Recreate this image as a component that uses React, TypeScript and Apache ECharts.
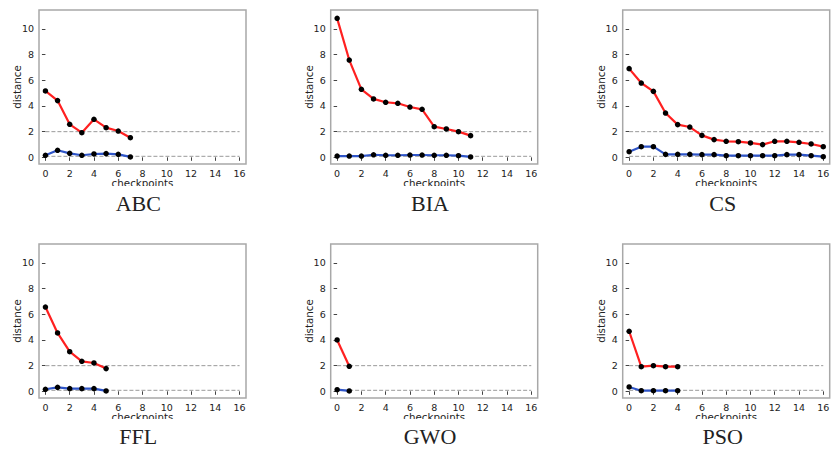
import React, { useEffect, useRef } from "react";
import * as echarts from "echarts";

// ---- data ----
const panelNames = ["ABC", "BIA", "CS", "FFL", "GWO", "PSO"];

const redABC = [5.17, 4.42, 2.57, 1.92, 2.96, 2.31, 2.05, 1.53];
const blueABC = [0.16, 0.55, 0.31, 0.16, 0.26, 0.29, 0.23, 0.03];

const redBIA = [10.83, 7.58, 5.3, 4.55, 4.29, 4.21, 3.92, 3.74, 2.39, 2.21, 2.0, 1.69];
const blueBIA = [0.1, 0.1, 0.1, 0.2, 0.16, 0.16, 0.18, 0.18, 0.16, 0.16, 0.13, 0.03];

const redCS = [6.91, 5.79, 5.14, 3.45, 2.55, 2.36, 1.71, 1.38, 1.25, 1.22, 1.12, 0.99, 1.25, 1.25, 1.17, 1.04, 0.83];
const blueCS = [0.44, 0.83, 0.83, 0.23, 0.23, 0.23, 0.21, 0.21, 0.13, 0.13, 0.13, 0.13, 0.13, 0.21, 0.21, 0.13, 0.05];

const redFFL = [6.57, 4.55, 3.09, 2.34, 2.21, 1.77];
const blueFFL = [0.16, 0.31, 0.21, 0.21, 0.21, 0.03];

const redGWO = [4.0, 1.95];
const blueGWO = [0.13, 0.03];

const redPSO = [4.68, 1.92, 2.0, 1.92, 1.92];
const bluePSO = [0.34, 0.05, 0.05, 0.05, 0.05];

const redSeries = [redABC, redBIA, redCS, redFFL, redGWO, redPSO];
const blueSeries = [blueABC, blueBIA, blueCS, blueFFL, blueGWO, bluePSO];

const thresholds = [2, 0.08];
const xTicks = [0, 2, 4, 6, 8, 10, 12, 14, 16];
const yTicks = [0, 2, 4, 6, 8, 10];

// ---- layout ----
const colLefts = [39, 330.7, 622.7];
const rowTops = [10, 244];
const plotW = 207;
const plotH = 154;
const captionX = [138.3, 430, 722.7];
const captionY = [203.3, 436.7];
const clipY = [186, 419];

export default function App() {
  const ref = useRef<HTMLDivElement>(null);

  useEffect(() => {
    if (!ref.current) return;
    const chart = echarts.init(ref.current, null, { renderer: "svg" });

    const grids: any[] = [];
    const xAxes: any[] = [];
    const yAxes: any[] = [];
    const series: any[] = [];
    const graphics: any[] = [];

    panelNames.forEach((name, i) => {
      const r = Math.floor(i / 3);
      const c = i % 3;
      grids.push({
        left: colLefts[c],
        top: rowTops[r],
        width: plotW,
        height: plotH,
        show: true,
        borderColor: "#a8a8a8",
        borderWidth: 1.5,
        backgroundColor: "#fff",
      });
      xAxes.push({
        type: "value",
        gridIndex: i,
        min: -0.53,
        max: 16.53,
        axisLine: { show: false },
        splitLine: { show: false },
        axisTick: {
          show: true,
          length: 3.5,
          customValues: xTicks,
          lineStyle: { color: "#444", width: 1 },
        },
        axisLabel: {
          customValues: xTicks,
          fontFamily: "DejaVu Sans",
          fontSize: 9.5,
          color: "#222",
          margin: 4,
        },
        name: "checkpoints",
        nameLocation: "middle",
        nameGap: 14,
        nameMoveOverlap: false,
        nameTextStyle: {
          fontFamily: "DejaVu Sans",
          fontSize: 10.3,
          color: "#222",
          verticalAlign: "top",
        },
      });
      yAxes.push({
        type: "value",
        gridIndex: i,
        min: -0.52,
        max: 11.48,
        axisLine: { show: false },
        splitLine: { show: false },
        axisTick: {
          show: true,
          length: 3.5,
          customValues: yTicks,
          lineStyle: { color: "#444", width: 1 },
        },
        axisLabel: {
          customValues: yTicks,
          fontFamily: "DejaVu Sans",
          fontSize: 9.5,
          color: "#222",
          margin: 5,
        },
        name: "distance",
        nameLocation: "middle",
        nameGap: 17,
        nameMoveOverlap: false,
        nameTextStyle: {
          fontFamily: "DejaVu Sans",
          fontSize: 10.3,
          color: "#222",
        },
      });

      thresholds.forEach((t) => {
        series.push({
          type: "line",
          xAxisIndex: i,
          yAxisIndex: i,
          data: [
            [xTicks[0], t],
            [xTicks[xTicks.length - 1], t],
          ],
          symbol: "none",
          silent: true,
          z: 1,
          lineStyle: { color: "#999", width: 1, type: [4, 2] },
        });
      });

      series.push({
        type: "line",
        xAxisIndex: i,
        yAxisIndex: i,
        data: blueSeries[i].map((v, k) => [k, v]),
        symbol: "circle",
        symbolSize: 5.5,
        z: 3,
        lineStyle: { color: "#2f55c8", width: 2.2 },
        itemStyle: { color: "#000" },
      });
      series.push({
        type: "line",
        xAxisIndex: i,
        yAxisIndex: i,
        data: redSeries[i].map((v, k) => [k, v]),
        symbol: "circle",
        symbolSize: 5.5,
        z: 4,
        lineStyle: { color: "#ff2020", width: 2.2 },
        itemStyle: { color: "#000" },
      });

      graphics.push({
        type: "rect",
        z: 100,
        shape: { x: colLefts[c] - 20, y: clipY[r], width: plotW + 40, height: 6 },
        style: { fill: "#fff" },
      });
      graphics.push({
        type: "text",
        z: 101,
        x: captionX[c],
        y: captionY[r],
        style: {
          text: name,
          fontFamily: "Liberation Serif",
          fontSize: 22,
          fill: "#222",
          align: "center",
          verticalAlign: "middle",
        },
      });
    });

    chart.setOption({
      animation: false,
      backgroundColor: "#fff",
      grid: grids,
      xAxis: xAxes,
      yAxis: yAxes,
      series,
      graphic: graphics,
    });

    return () => chart.dispose();
  }, []);

  return (
    <div
      ref={ref}
      style={{ position: "fixed", left: 0, top: 0, width: 837, height: 452 }}
    />
  );
}
